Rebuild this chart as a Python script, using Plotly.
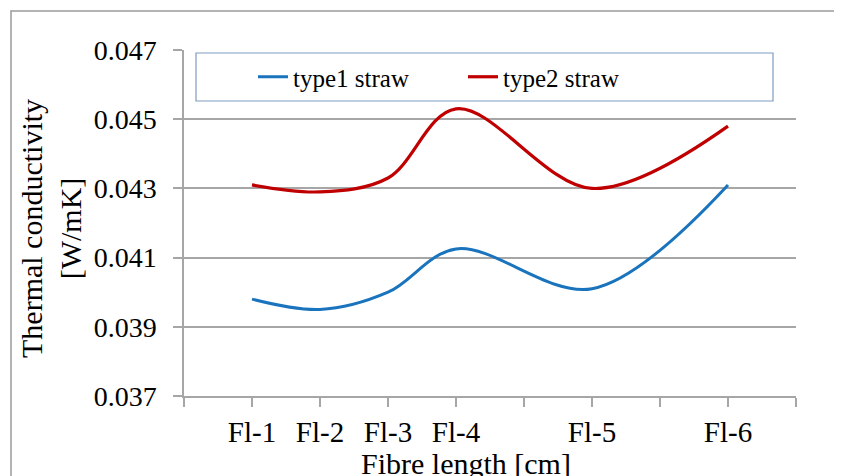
import plotly.graph_objects as go

# ---- data ----
fibre_labels = ["Fl-1", "Fl-2", "Fl-3", "Fl-4", "Fl-5", "Fl-6"]
fibre_x = [1, 2, 3, 4, 6, 8]
type1_straw = [0.0398, 0.0395, 0.0400, 0.04125, 0.0401, 0.0431]
type2_straw = [0.0431, 0.0429, 0.0433, 0.0453, 0.0430, 0.0448]
y_ticks = [0.037, 0.039, 0.041, 0.043, 0.045, 0.047]
y_tick_text = ["0.037", "0.039", "0.041", "0.043", "0.045", "0.047"]

# page has default 8px body margin; the figure is drawn in page coords minus 8
OFF = 8
W, H = 842 - OFF, 476 - OFF
ML = 184 - OFF
MT = 50 - OFF
MR = W - (796 - OFF)
MB = H - (396 - OFF)
PW, PH = W - ML - MR, H - MT - MB


def px_x(px):
    return (px - OFF - ML) / PW


def px_y(py):
    return (H - MB - (py - OFF)) / PH


FONT = "Liberation Serif, Times New Roman, serif"
GRID = "#a6a6a6"

fig = go.Figure()
fig.add_trace(go.Scatter(
    x=fibre_x, y=type1_straw, mode="lines", name="type1 straw",
    line=dict(color="#1a74bd", width=3, shape="spline", smoothing=1.0),
))
fig.add_trace(go.Scatter(
    x=fibre_x, y=type2_straw, mode="lines", name="type2 straw",
    line=dict(color="#c00000", width=3.2, shape="spline", smoothing=1.0),
))

fig.update_layout(
    width=W, height=H,
    margin=dict(l=ML, r=MR, t=MT, b=MB, pad=0),
    paper_bgcolor="white", plot_bgcolor="white",
    font=dict(family=FONT, size=28, color="#000000"),
    showlegend=True,
    legend=dict(
        orientation="h", x=px_x(253), xanchor="left",
        y=px_y(77), yanchor="middle",
        font=dict(family=FONT, size=25, color="#000000"),
        bgcolor="rgba(0,0,0,0)", borderwidth=0,
        entrywidth=165, entrywidthmode="pixels",
        itemwidth=30,
    ),
    xaxis=dict(
        range=[0, 9], tickmode="array", tickvals=fibre_x, ticktext=fibre_labels,
        ticks="outside", ticklen=9, tickwidth=1.5, tickcolor=GRID,
        minor=dict(tickmode="array", tickvals=list(range(0, 10)),
                   ticks="outside", ticklen=9, tickwidth=1.5, tickcolor=GRID,
                   showgrid=False),
        showgrid=False, zeroline=False,
        showline=True, linecolor=GRID, linewidth=1.5,
        tickfont=dict(family=FONT, size=29, color="#000000"),
        ticklabelstandoff=0,
    ),
    yaxis=dict(
        range=[0.037, 0.047], tickmode="array", tickvals=y_ticks, ticktext=y_tick_text,
        ticks="outside", ticklen=9, tickwidth=1.5, tickcolor=GRID,
        showgrid=True, gridcolor=GRID, gridwidth=1.5, zeroline=False,
        showline=True, linecolor=GRID, linewidth=1.5,
        tickfont=dict(family=FONT, size=28, color="#000000"),
        ticklabelstandoff=11,
    ),
    shapes=[
        # outer chart border (left and top visible)
        dict(type="rect", xref="paper", yref="paper",
             x0=px_x(11), x1=px_x(900), y0=px_y(520), y1=px_y(11),
             line=dict(color="#9a9a9a", width=1.5), fillcolor="rgba(0,0,0,0)",
             layer="below"),
        # legend frame
        dict(type="rect", xref="paper", yref="paper",
             x0=px_x(196), x1=px_x(773), y0=px_y(101), y1=px_y(53),
             line=dict(color="#7f9cc0", width=1.2), fillcolor="white",
             layer="above"),
    ],
    annotations=[
        dict(text="Thermal conductivity<br>[W/mK]", xref="paper", yref="paper",
             x=px_x(51), y=px_y(229), xanchor="center", yanchor="middle",
             textangle=-90, showarrow=False,
             font=dict(family=FONT, size=30, color="#000000")),
        dict(text="Fibre length [cm]", xref="paper", yref="paper",
             x=px_x(466), y=px_y(463), xanchor="center", yanchor="middle",
             showarrow=False,
             font=dict(family=FONT, size=30, color="#000000")),
    ],
)

fig.write_html("out.html")
